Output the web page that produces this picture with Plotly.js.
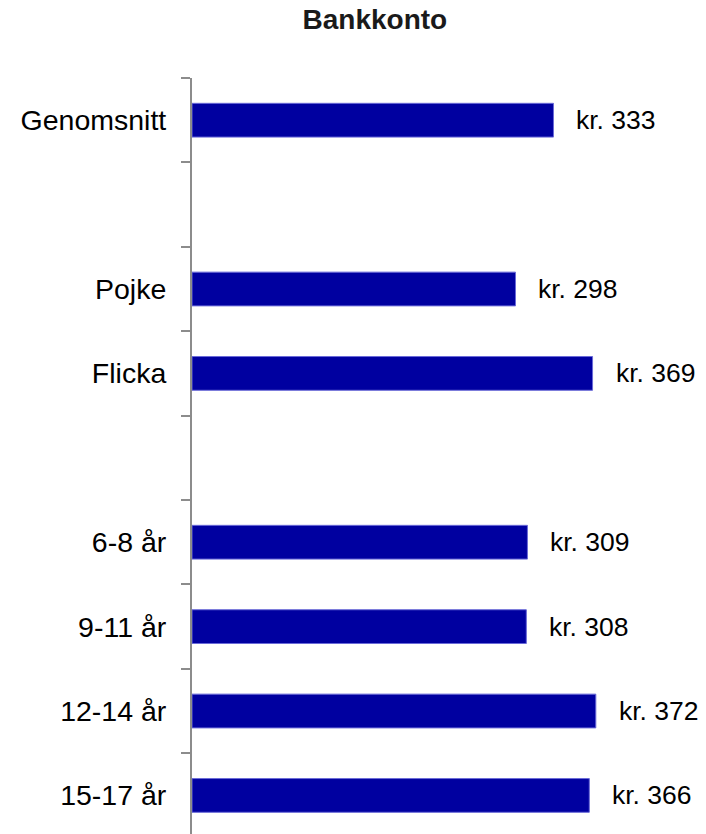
<!DOCTYPE html>
<html>
<head>
<meta charset="utf-8">
<script src="https://cdn.plot.ly/plotly-3.0.1.min.js"></script>
<style>html,body{margin:0;padding:0;background:#fff;}#chart{width:706px;height:834px;}</style>
</head>
<body>
<div id="chart"></div>
<script>
// Data
var categories = ['Genomsnitt', ' ', 'Pojke', 'Flicka', '  ', '6-8 år', '9-11 år', '12-14 år', '15-17 år'];
var values = [333, null, 298, 369, null, 309, 308, 372, 366];
var valueLabels = ['kr. 333', '', 'kr. 298', 'kr. 369', '', 'kr. 309', 'kr. 308', 'kr. 372', 'kr. 366'];

var FONT = '"Liberation Sans", Arial, sans-serif';

var trace = {
  type: 'bar',
  orientation: 'h',
  x: values,
  y: categories,
  marker: {color: '#0000A0', line: {color: '#6a6ad8', width: 1}},
  hoverinfo: 'none'
};

var annotations = [];
for (var i = 0; i < categories.length; i++) {
  if (values[i] === null) continue;
  annotations.push({
    x: values[i], y: categories[i], xref: 'x', yref: 'y',
    text: valueLabels[i], showarrow: false,
    xanchor: 'left', yanchor: 'middle', xshift: 21,
    font: {family: FONT, size: 26.5, color: '#000'}
  });
}

var layout = {
  width: 706, height: 834,
  margin: {l: 192, r: 0, t: 78, b: 0, pad: 0},
  paper_bgcolor: '#fff', plot_bgcolor: '#fff',
  showlegend: false,
  bargap: 0.6,
  title: {
    text: '<b>Bankkonto</b>',
    x: 0.531, xanchor: 'center', xref: 'container',
    y: 0.9766, yanchor: 'middle', yref: 'container',
    font: {family: FONT, size: 28, color: '#1a1a1a'}
  },
  xaxis: {
    range: [0, 473.5], visible: false, showgrid: false, zeroline: false, fixedrange: true
  },
  yaxis: {
    type: 'category',
    categoryorder: 'array', categoryarray: categories,
    range: [8.457, -0.5],
    showline: true, linecolor: '#8c8c8c', linewidth: 2,
    ticks: 'outside', tickson: 'boundaries', ticklen: 9, tickwidth: 2, tickcolor: '#8c8c8c',
    ticklabelstandoff: 18,
    showgrid: false, zeroline: false,
    tickfont: {family: FONT, size: 28.5, color: '#000'},
    fixedrange: true
  },
  annotations: annotations
};

Plotly.newPlot('chart', [trace], layout, {displayModeBar: false, staticPlot: true});
</script>
</body>
</html>
